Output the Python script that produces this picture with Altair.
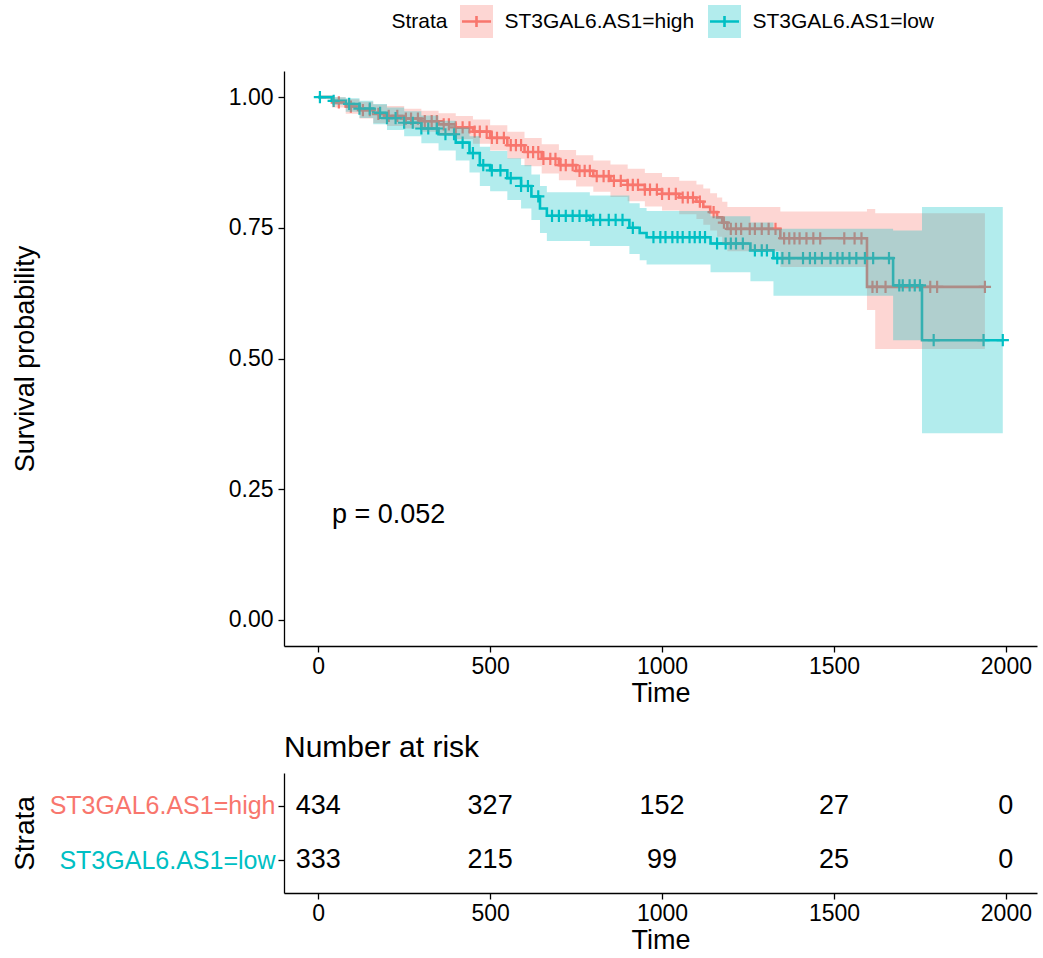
import altair as alt
import pandas as pd
import numpy as np

# ---------------- data ----------------
strata = ["ST3GAL6.AS1=high", "ST3GAL6.AS1=low"]
colors = ["#F8766D", "#00BFC4"]

high_time = [0, 40, 80, 120, 160, 200, 250, 300, 350, 400, 450, 500, 550, 600, 650, 700, 750, 800, 850, 900,
             950, 1000, 1050, 1100, 1120, 1140, 1160, 1175, 1190, 1344, 1596, 1620, 1939]
high_surv = [1.0, 0.99, 0.982, 0.975, 0.968, 0.964, 0.959, 0.954, 0.948, 0.942, 0.934, 0.922, 0.908, 0.895, 0.882,
             0.87, 0.859, 0.849, 0.84, 0.832, 0.823, 0.815, 0.808, 0.8, 0.79, 0.78, 0.77, 0.76, 0.748, 0.73,
             0.637, 0.637, 0.637]
high_upper = [1.0, 1.0, 0.996, 0.991, 0.986, 0.983, 0.978, 0.974, 0.969, 0.964, 0.957, 0.946, 0.934, 0.922, 0.91,
              0.899, 0.889, 0.879, 0.871, 0.863, 0.855, 0.847, 0.84, 0.833, 0.825, 0.816, 0.808, 0.8, 0.79, 0.781,
              0.786, 0.778, 0.778]
high_lower = [1.0, 0.98, 0.968, 0.959, 0.95, 0.945, 0.94, 0.934, 0.927, 0.92, 0.911, 0.898, 0.882, 0.868, 0.854,
              0.841, 0.829, 0.819, 0.809, 0.801, 0.791, 0.783, 0.776, 0.767, 0.756, 0.745, 0.733, 0.72, 0.705, 0.675,
              0.593, 0.518, 0.518]

low_time = [0, 40, 80, 120, 160, 200, 250, 300, 350, 400, 440, 470, 500, 550, 590, 620, 645, 665, 790, 905,
            935, 955, 1141, 1257, 1324, 1672, 1756, 1991]
low_surv = [1.0, 0.993, 0.987, 0.978, 0.97, 0.96, 0.951, 0.94, 0.929, 0.913, 0.893, 0.87, 0.86, 0.845, 0.83,
            0.81, 0.787, 0.773, 0.765, 0.75, 0.74, 0.732, 0.72, 0.707, 0.692, 0.64, 0.535, 0.535]
low_upper = [1.0, 1.0, 0.998, 0.993, 0.987, 0.98, 0.973, 0.965, 0.955, 0.942, 0.925, 0.905, 0.897, 0.883, 0.87,
             0.852, 0.83, 0.818, 0.812, 0.797, 0.788, 0.782, 0.772, 0.76, 0.748, 0.745, 0.79, 0.79]
low_lower = [1.0, 0.985, 0.972, 0.96, 0.948, 0.937, 0.925, 0.912, 0.898, 0.879, 0.856, 0.83, 0.82, 0.803, 0.787,
             0.765, 0.74, 0.725, 0.715, 0.7, 0.688, 0.68, 0.665, 0.648, 0.62, 0.535, 0.357, 0.357]

high_censor = [60, 95, 130, 150, 175, 205, 230, 255, 270, 290, 310, 330, 345, 365, 380, 400, 420, 440, 455, 470,
               490, 505, 520, 540, 560, 575, 590, 610, 625, 640, 655, 675, 690, 705, 720, 740, 760, 775, 790, 810,
               830, 845, 860, 880, 900, 915, 930, 950, 965, 985, 1000, 1020, 1040, 1060, 1075, 1090, 1110, 1150,
               1180, 1200, 1215, 1230, 1255, 1270, 1290, 1310, 1330, 1355, 1370, 1385, 1400, 1420, 1440, 1460,
               1530, 1560, 1580, 1612, 1625, 1650, 1780, 1800, 1939]
low_censor = [5, 45, 90, 120, 150, 180, 200, 225, 250, 275, 300, 320, 345, 370, 395, 420, 450, 480, 505, 530,
              560, 590, 610, 640, 680, 700, 720, 740, 760, 780, 800, 820, 845, 865, 885, 915, 975, 995, 1010, 1030,
              1045, 1060, 1080, 1095, 1110, 1125, 1160, 1185, 1200, 1215, 1235, 1270, 1290, 1305, 1335, 1350,
              1370, 1410, 1430, 1445, 1465, 1490, 1510, 1525, 1545, 1565, 1590, 1614, 1660, 1690, 1700, 1720,
              1735, 1750, 1790, 1935, 1991]

risk_times = [0, 500, 1000, 1500, 2000]
risk_high = [434, 327, 152, 27, 0]
risk_low = [333, 215, 99, 25, 0]

pval_label = "p = 0.052"
pval_time = 40
pval_surv = 0.2

tick_values = [0, 500, 1000, 1500, 2000]

# ---------------- tables ----------------
curves = []
censors = []
for name, t, s, u, l, c in [
    (strata[0], high_time, high_surv, high_upper, high_lower, high_censor),
    (strata[1], low_time, low_surv, low_upper, low_lower, low_censor),
]:
    curves.append(pd.DataFrame({"strata": name, "time": t, "surv": s, "upper": u, "lower": l}))
    idx = np.searchsorted(np.array(t), np.array(c), side="right") - 1
    censors.append(pd.DataFrame({"strata": name, "time": c, "surv": np.array(s)[idx]}))
curve_df = pd.concat(curves, ignore_index=True)
censor_df = pd.concat(censors, ignore_index=True)

risk_df = pd.concat([
    pd.DataFrame({"strata": strata[0], "time": risk_times, "n": risk_high}),
    pd.DataFrame({"strata": strata[1], "time": risk_times, "n": risk_low}),
], ignore_index=True)

pval_df = pd.DataFrame({"label": [pval_label], "time": [pval_time], "surv": [pval_surv]})
legend_df = pd.DataFrame({"strata": strata})

# ---------------- styles ----------------
FONT = "Liberation Sans"
PLOT_W = 753
MAIN_H = 575
RISK_H = 120
TITLE_X = -259

x_scale = alt.Scale(domain=[-99.5, 2090.5], nice=False, zero=False)
y_scale = alt.Scale(domain=[-0.05, 1.05], nice=False, zero=False)
color_scale = alt.Scale(domain=strata, range=colors)

x_axis = alt.Axis(values=tick_values, format="d", title="Time", labelFontSize=23, titleFontSize=27,
                  titleFontWeight="normal", labelPadding=3, titlePadding=2, labelFlush=False)
y_axis = alt.Axis(values=[0, 0.25, 0.5, 0.75, 1.0], format=".2f", title="Survival probability",
                  labelFontSize=23, titleFontSize=27, titleFontWeight="normal", labelPadding=5,
                  titleX=TITLE_X, titleY=MAIN_H / 2, titleAngle=-90, titleAlign="center",
                  titleBaseline="middle")

X = alt.X("time:Q", scale=x_scale, axis=x_axis)
COLOR = alt.Color("strata:N", scale=color_scale, legend=None)

plus_path = "M-1,0H1M0,-1V1"

lines = alt.Chart(curve_df).mark_line(interpolate="step-after", strokeWidth=2.6).encode(
    x=X, y=alt.Y("surv:Q", scale=y_scale, axis=y_axis), color=COLOR, detail="strata:N"
)
marks = alt.Chart(censor_df).mark_point(shape=plus_path, size=150, filled=False, strokeWidth=2.2, opacity=1).encode(
    x=X, y=alt.Y("surv:Q", scale=y_scale, axis=y_axis), color=COLOR
)
bands = alt.Chart(curve_df).mark_area(interpolate="step-after", opacity=0.3).encode(
    x=X, y=alt.Y("lower:Q", scale=y_scale, axis=y_axis), y2="upper:Q", color=COLOR, detail="strata:N"
)
ptext = alt.Chart(pval_df).mark_text(align="left", baseline="middle", fontSize=27, font=FONT, color="black").encode(
    x=X, y=alt.Y("surv:Q", scale=y_scale, axis=y_axis), text="label:N"
)
main = alt.layer(lines, marks, bands, ptext).properties(width=PLOT_W, height=MAIN_H)

# ---------------- risk table ----------------
label_color = alt.ExprRef(expr="datum.value == '%s' ? '%s' : '%s'" % (strata[0], colors[0], colors[1]))
risk = alt.Chart(risk_df).mark_text(fontSize=27, font=FONT, color="black", baseline="middle").encode(
    x=alt.X("time:Q", scale=x_scale, axis=x_axis),
    y=alt.Y("strata:N", sort=strata, scale=alt.Scale(type="point", padding=0.611),
            axis=alt.Axis(title="Strata", labelFontSize=25, labelColor=label_color, labelPadding=3,
                          labelLimit=400,
                          titleFontSize=28, titleFontWeight="normal", titleX=TITLE_X, titleY=RISK_H / 2,
                          titleAngle=-90, titleAlign="center", titleBaseline="middle")),
    text="n:Q",
).properties(width=PLOT_W, height=RISK_H,
             title=alt.TitleParams("Number at risk", anchor="start", frame="group", fontSize=30,
                                   fontWeight="normal", font=FONT, color="black", offset=10))

# ---------------- legend ----------------
# legend chart is aligned with the plot areas (its origin is the plot's left edge)
LEG_OFF = -3
LEG_FS = 21
lx = alt.X("strata:N", scale=alt.Scale(type="point", domain=strata, range=[192.5, 440.5], padding=0), axis=None)
leg_base = alt.Chart(legend_df).encode(x=lx)
leg_sq = leg_base.mark_square(size=1089, opacity=0.3, yOffset=LEG_OFF).encode(color=COLOR)
leg_line = leg_base.mark_point(shape="M-0.88,0H0.88M0,-0.33V0.33", size=1089, filled=False, strokeWidth=2.6,
                               opacity=1, yOffset=LEG_OFF).encode(color=COLOR)
leg_txt = leg_base.mark_text(align="left", baseline="middle", dx=28, dy=LEG_OFF, fontSize=LEG_FS, font=FONT,
                             color="black").encode(text="strata:N")
leg_title = leg_base.mark_text(align="right", baseline="middle", dx=-29, dy=LEG_OFF, fontSize=LEG_FS, font=FONT,
                               color="black", text="Strata").transform_filter(
    alt.datum.strata == strata[0])
legend = alt.layer(leg_sq, leg_line, leg_txt, leg_title).properties(width=PLOT_W, height=39)

chart = alt.vconcat(legend, main, risk, spacing=27).properties(
    padding={"left": 11, "top": 5, "right": 5, "bottom": 5}
).configure(font=FONT).configure_view(stroke=None).configure_axis(
    grid=False, domainColor="black", domainWidth=1.3, tickColor="black", tickWidth=1.3, tickSize=6,
    labelColor="black", titleColor="black", labelFont=FONT, titleFont=FONT
)

chart.save("out.html", embed_options={"renderer": "svg", "actions": False})
